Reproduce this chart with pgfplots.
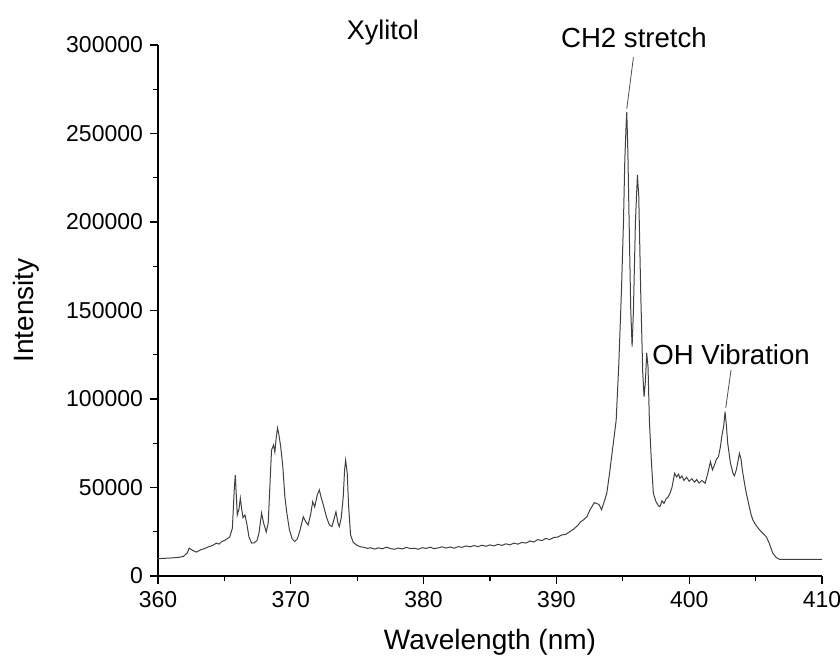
\documentclass[border=0pt]{standalone}
\usepackage{fontspec}
\setmainfont{Liberation Sans}
\usepackage{pgfplots}
\pgfplotsset{compat=1.18}
\begin{document}
\begin{tikzpicture}
\begin{axis}[
  scale only axis, width=332pt, height=265.5pt,
  xmin=360, xmax=410, ymin=0, ymax=300000,
  axis lines=left, axis line style={-, line width=0.6pt},
  tick align=outside, tick style={black, line width=0.6pt},
  major tick length=4pt, minor tick length=2.5pt,
  xtick={360,370,...,410}, minor xtick={365,375,...,405},
  ytick={0,50000,...,300000}, minor ytick={25000,75000,...,275000},
  scaled y ticks=false,
  /pgf/number format/assume math mode=true,
  yticklabel={\pgfmathprintnumber[fixed,1000 sep={}]{\tick}},
  ticklabel style={font=\fontsize{11.5}{14}\selectfont},
  xlabel={Wavelength (nm)}, ylabel={Intensity},
  label style={font=\fontsize{14}{17}\selectfont},
  xlabel style={at={(rel axis cs:0.5,0)}, anchor=base, yshift=-36.5pt},
  ylabel style={yshift=6.5pt},
  clip=false,
]
\addplot[color=black!75, line width=0.5pt] coordinates {
(360.0,9800)(360.5,10000)(361.0,10200)(361.5,10500)(361.9,11000)(362.2,13000)(362.35,15800)(362.6,14500)(362.9,13500)(363.2,14800)(363.5,15500)(363.8,16500)(364.1,17200)(364.4,18600)(364.6,18000)(364.8,19500)(365.0,20000)(365.2,21000)(365.4,22000)(365.6,27000)(365.75,50000)(365.82,57000)(365.9,45000)(365.97,34500)(366.1,38000)(366.2,44000)(366.3,38000)(366.4,33000)(366.55,34500)(366.7,29000)(366.85,22000)(367.05,18600)(367.25,18800)(367.45,20000)(367.6,24000)(367.8,35600)(367.95,30000)(368.15,24900)(368.3,30000)(368.45,55000)(368.55,71200)(368.7,74000)(368.8,70000)(368.9,78000)(369.0,83600)(369.1,80000)(369.24,73000)(369.4,61800)(369.55,45000)(369.7,35600)(369.9,26000)(370.1,21000)(370.3,19500)(370.5,21000)(370.7,26000)(370.94,33500)(371.1,31000)(371.3,28800)(371.5,35000)(371.65,42000)(371.8,39000)(372.0,46000)(372.15,48600)(372.3,44000)(372.45,40100)(372.7,33000)(372.9,29000)(373.1,27900)(373.25,32000)(373.4,36300)(373.55,30000)(373.65,27900)(373.8,33000)(373.95,45000)(374.05,60000)(374.13,65500)(374.25,58000)(374.35,40000)(374.5,23200)(374.7,19000)(374.96,17500)(375.2,16600)(375.5,16200)(375.8,15600)
(376.0,16000)(376.3,15200)(376.6,15900)(376.9,15400)(377.2,16300)(377.5,15500)(377.8,15100)(378.1,15800)(378.4,15300)(378.7,16200)(379.0,15500)(379.3,15700)(379.6,15100)(379.9,16000)(380.2,15600)(380.5,16300)(380.8,15400)(381.1,15900)(381.4,16500)(381.7,15800)(382.0,16400)(382.3,15700)(382.6,16600)(382.9,16200)(383.2,17000)(383.5,16500)(383.8,17200)(384.1,16600)(384.4,17400)(384.7,16800)(385.0,17600)(385.3,17000)(385.6,17900)(385.9,17300)(386.2,18200)(386.5,17600)(386.8,18600)(387.1,18000)(387.4,19000)(387.7,18600)(388.0,19800)(388.3,19200)(388.6,20600)(388.9,20000)(389.2,21200)(389.5,20600)(389.8,21800)(390.1,22000)(390.4,23200)(390.7,23500)(391.0,25000)(391.3,26500)(391.6,28500)(391.8,30500)(392.0,31500)(392.3,33500)(392.5,37000)(392.7,39500)(392.85,41500)(393.0,41000)(393.2,40500)(393.4,37500)(393.6,42000)(393.8,47000)(394.0,58000)(394.2,70000)(394.4,82000)(394.5,88000)(394.7,120000)(394.9,161600)(395.05,200000)(395.15,235000)(395.25,255000)(395.3,262000)(395.38,240000)(395.5,190000)(395.6,150000)(395.7,129600)(395.8,150000)(395.95,200000)(396.1,226600)(396.2,215000)(396.35,160000)(396.5,115000)(396.6,101300)(396.7,110000)(396.8,126000)(396.9,118000)(397.0,88000)(397.15,65000)(397.3,46700)(397.5,42000)(397.7,39500)(397.8,39200)(397.95,42500)(398.1,41000)(398.25,43500)(398.4,44500)(398.55,46700)(398.7,50000)(398.9,58000)(399.05,56000)(399.2,57500)(399.3,55200)(399.45,56500)(399.6,54000)(399.8,55800)(400.0,53500)(400.2,55000)(400.4,53000)(400.56,54500)(400.75,52500)(400.95,54000)(401.2,52400)(401.4,58000)(401.6,64600)(401.75,60000)(401.9,62700)(402.05,66000)(402.2,67400)(402.35,73000)(402.45,78700)(402.6,85000)(402.7,92800)(402.8,85000)(402.9,75000)(403.1,64000)(403.3,58000)(403.4,56600)(403.55,60000)(403.7,66000)(403.78,69300)(403.9,66000)(404.0,59900)(404.15,53000)(404.3,46700)(404.5,40000)(404.65,35000)(404.8,31600)(405.0,29000)(405.3,26000)(405.5,24500)(405.8,22200)(406.0,19000)(406.3,12800)(406.55,10500)(406.8,9400)(407.5,9400)(408.5,9400)(410.0,9400)
};
\draw[black!70, line width=0.4pt] (axis cs:395.3,264000) -- (axis cs:395.8,293000);
\draw[black!70, line width=0.4pt] (axis cs:402.75,95000) -- (axis cs:403.15,116400);
\node[font=\fontsize{13.5}{16}\selectfont] at (axis cs:376.94,307000) {Xylitol};
\node[font=\fontsize{13.8}{16}\selectfont] at (axis cs:395.84,304000) {CH2 stretch};
\node[font=\fontsize{13.8}{16}\selectfont] at (axis cs:403.15,124900) {OH Vibration};
\coordinate (bl) at (rel axis cs:0,0);
\coordinate (tr) at (rel axis cs:1,1);
\end{axis}
\pgfresetboundingbox
\path ([shift={(-79pt,-41.5pt)}]bl) rectangle ([shift={(9pt,22.5pt)}]tr);
\end{tikzpicture}
\end{document}
